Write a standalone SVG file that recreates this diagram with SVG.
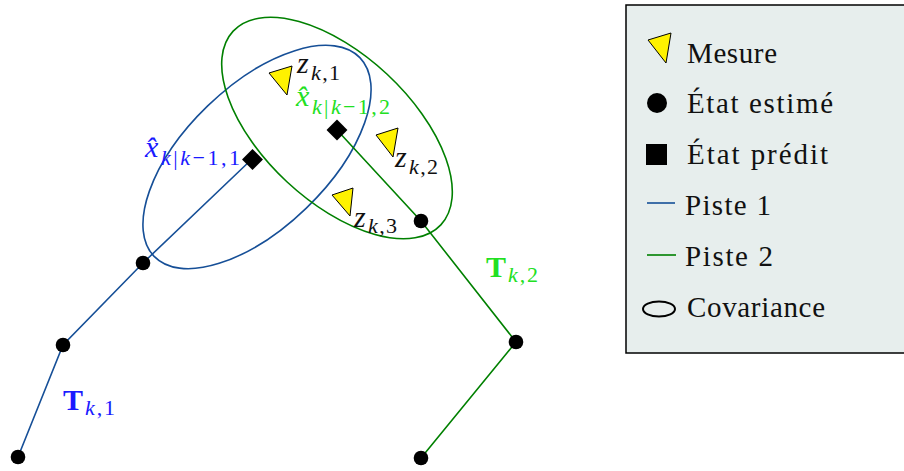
<svg xmlns="http://www.w3.org/2000/svg" width="904" height="471" viewBox="0 0 904 471">
<style>
.t1{stroke:#164f97;stroke-width:1.6;fill:none}
.t2{stroke:#008000;stroke-width:1.6;fill:none}
.st{fill:#000}
.meas{fill:#fff200;stroke:#000;stroke-width:1}
.lg{font-family:"Liberation Serif","DejaVu Serif",serif;font-size:29px;fill:#111}
.m{font-family:"Liberation Serif","DejaVu Serif",serif;font-style:italic;font-size:30px}
.s{font-family:"Liberation Serif","DejaVu Serif",serif;font-style:italic;font-size:22px}
.u{font-style:normal}
.b{font-family:"Liberation Serif","DejaVu Serif",serif;font-weight:bold;font-size:30px}
</style>
<defs>
<circle id="pt" r="7.3"/>
<rect id="dm" x="-7.4" y="-7.4" width="14.8" height="14.8" transform="rotate(45)"/>
</defs>
<g id="covariances">
<ellipse id="cov1" class="t1" cx="257" cy="157" rx="143" ry="71" transform="rotate(-44 257 157)"/>
<ellipse id="cov2" class="t2" cx="337" cy="128" rx="142" ry="73.5" transform="rotate(43 337 128)"/>
</g>
<g id="connectors">
<polyline class="t1" points="18,457 63,345 143,263 252,159"/>
<polyline class="t2" points="421,458 516,342 421,221 337,130"/>
</g>
<g id="track1-states" class="st">
<use href="#pt" x="18" y="457"/>
<use href="#pt" x="63" y="345"/>
<use href="#pt" x="143" y="263"/>
<use href="#dm" x="252.5" y="159.5"/>
</g>
<g id="track2-states" class="st">
<use href="#pt" x="421" y="458"/>
<use href="#pt" x="516" y="342"/>
<use href="#pt" x="421" y="221"/>
<use href="#dm" x="337" y="130"/>
</g>
<g id="measurements">
<polygon class="meas" points="269,73 292,66 287,95"/>
<polygon class="meas" points="376,135 398,128 393,157"/>
<polygon class="meas" points="332,195 353,188 350,216"/>
</g>
<g id="labels">
<text x="297" y="73" class="m" fill="#111">z<tspan class="s" x="311" dy="7" textLength="29" lengthAdjust="spacing">k<tspan class="u">,1</tspan></tspan></text>
<text x="395" y="167" class="m" fill="#111">z<tspan class="s" x="409" dy="7" textLength="29" lengthAdjust="spacing">k<tspan class="u">,2</tspan></tspan></text>
<text x="354" y="227" class="m" fill="#111">z<tspan class="s" x="368" dy="6" textLength="29" lengthAdjust="spacing">k<tspan class="u">,3</tspan></tspan></text>
<text x="145" y="157" class="m" fill="#1a1aff">x̂<tspan class="s" x="161" dy="8" textLength="79" lengthAdjust="spacing">k<tspan class="u">|</tspan>k<tspan class="u">−1,1</tspan></tspan></text>
<text x="296" y="106" class="m" fill="#22e022">x̂<tspan class="s" x="312" dy="8" textLength="78" lengthAdjust="spacing">k<tspan class="u">|</tspan>k<tspan class="u">−1,2</tspan></tspan></text>
<text x="63" y="410" class="b" fill="#1a1aff">T<tspan class="s" x="85" dy="5" font-weight="normal" textLength="30" lengthAdjust="spacing">k<tspan class="u">,1</tspan></tspan></text>
<text x="486" y="277" class="b" fill="#22e022">T<tspan class="s" x="508" dy="5" font-weight="normal" textLength="30" lengthAdjust="spacing">k<tspan class="u">,2</tspan></tspan></text>
</g>
<g id="legend">
<rect x="626" y="5" width="290" height="348" fill="#e7eeed" stroke="#000" stroke-width="1.5"/>
<polygon class="meas" points="648,40 671,33 666,63"/>
<circle cx="657" cy="103" r="10" fill="#000"/>
<rect x="646" y="144" width="21" height="21" fill="#000"/>
<line x1="647" y1="203" x2="675" y2="203" stroke="#164f97" stroke-width="1.6"/>
<line x1="647" y1="255" x2="676" y2="255" stroke="#008000" stroke-width="1.6"/>
<ellipse cx="659" cy="309" rx="16" ry="7.5" fill="none" stroke="#000" stroke-width="2"/>
<text class="lg" x="687" y="63" textLength="90" lengthAdjust="spacing">Mesure</text>
<text class="lg" x="687" y="113" textLength="146" lengthAdjust="spacing">État estimé</text>
<text class="lg" x="687" y="164" textLength="141" lengthAdjust="spacing">État prédit</text>
<text class="lg" x="685" y="215" textLength="86" lengthAdjust="spacing">Piste 1</text>
<text class="lg" x="685" y="266" textLength="88" lengthAdjust="spacing">Piste 2</text>
<text class="lg" x="687" y="317" textLength="138" lengthAdjust="spacing">Covariance</text>
</g>
</svg>
